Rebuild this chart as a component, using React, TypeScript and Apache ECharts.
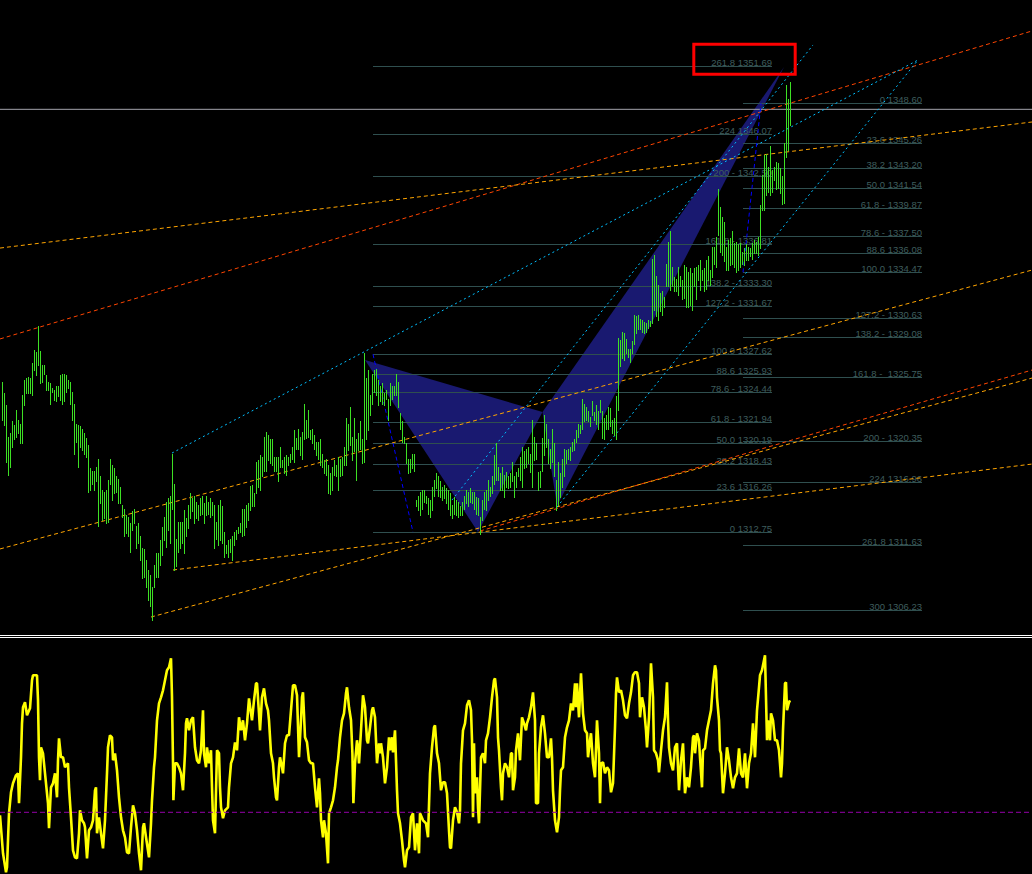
import React, { useEffect, useRef } from "react";
import * as echarts from "echarts";

// ---- price bars (high / low per bar, one bar every slot) ----
const barHigh = [
  1325.3,1324.4,1323.4,1320.7,1321.0,1322.0,1321.7,1323.0,1322.1,1321.8,
  1324.2,1325.5,1325.6,1325.7,1325.6,1326.9,1328.0,1327.8,1330.0,1327.9,
  1326.7,1326.7,1325.9,1325.3,1325.2,1324.8,1324.6,1325.0,1325.0,1325.9,
  1326.0,1326.0,1325.9,1325.5,1325.3,1324.5,1323.5,1321.8,1321.7,1321.6,
  1321.4,1321.0,1320.6,1320.0,1318.1,1317.9,1317.9,1318.2,1318.9,1317.4,
  1316.3,1316.1,1316.3,1317.1,1318.9,1318.4,1318.1,1317.4,1317.2,1316.5,
  1315.0,1314.7,1314.2,1314.0,1313.5,1314.5,1314.7,1313.3,1313.5,1312.4,
  1311.4,1311.3,1310.4,1309.6,1309.2,1308.2,1310.0,1311.0,1311.0,1312.1,
  1313.2,1314.0,1315.3,1315.6,1315.8,1319.3,1316.8,1312.2,1313.6,1313.6,
  1313.6,1314.6,1313.9,1315.0,1316.0,1315.6,1315.8,1315.3,1315.0,1315.6,
  1315.8,1315.2,1315.8,1315.3,1315.6,1315.3,1315.0,1313.6,1315.0,1315.4,
  1314.9,1312.8,1311.7,1312.1,1312.2,1312.4,1312.8,1312.9,1313.2,1313.5,
  1314.7,1314.7,1315.0,1315.2,1316.6,1316.7,1316.0,1318.6,1318.8,1319.2,
  1319.0,1320.7,1321.1,1320.9,1320.5,1320.5,1319.0,1319.0,1319.0,1319.9,
  1318.8,1319.0,1319.2,1319.0,1319.3,1319.9,1321.3,1320.6,1321.4,1320.7,
  1321.1,1323.5,1322.1,1323.0,1321.3,1321.4,1320.9,1320.3,1320.3,1320.5,
  1319.3,1318.8,1318.9,1318.4,1317.7,1318.2,1318.8,1318.4,1319.0,1318.9,
  1319.0,1319.9,1322.3,1321.8,1323.2,1320.7,1322.3,1320.5,1321.0,1322.0,
  1320.5,1327.7,1325.6,1326.3,1324.2,1326.0,1326.3,1326.4,1325.5,1325.0,
  1325.2,1324.4,1324.6,1323.9,1325.2,1325.0,1325.0,1326.0,1325.3,1322.7,
  1322.0,1320.7,1320.2,1318.9,1318.9,1319.3,1319.3,1315.4,1315.8,1316.1,
  1316.3,1316.3,1315.8,1315.6,1315.4,1316.5,1317.1,1317.7,1317.4,1317.0,
  1316.5,1316.7,1316.4,1316.3,1316.0,1315.0,1315.7,1315.4,1315.3,1314.9,
  1315.3,1315.8,1316.3,1316.1,1316.4,1316.1,1316.1,1315.7,1315.6,1314.0,
  1315.4,1316.1,1316.3,1317.1,1316.5,1317.4,1319.2,1320.2,1318.2,1317.7,
  1318.2,1317.5,1317.8,1317.4,1317.7,1318.6,1317.4,1317.8,1318.1,1319.0,
  1319.9,1319.5,1319.7,1319.9,1319.3,1322.1,1320.7,1320.2,1317.8,1317.9,
  1320.6,1322.5,1321.8,1320.5,1319.7,1321.4,1320.2,1317.1,1318.6,1317.7,
  1318.9,1319.7,1319.6,1319.7,1319.9,1320.3,1320.5,1321.3,1321.8,1321.7,
  1323.9,1323.5,1323.2,1322.9,1322.4,1323.7,1322.8,1323.4,1322.9,1323.8,
  1322.9,1322.3,1322.5,1323.2,1323.1,1322.1,1322.3,1324.1,1329.0,1328.8,
  1329.5,1329.4,1328.9,1328.1,1328.1,1328.7,1330.9,1330.8,1330.9,1330.6,
  1330.5,1330.3,1330.2,1330.5,1330.4,1335.6,1335.9,1334.2,1333.4,1332.7,
  1332.9,1332.4,1335.2,1337.0,1337.9,1334.9,1334.1,1333.9,1334.9,1334.2,
  1333.8,1335.1,1334.9,1334.5,1334.8,1334.4,1334.8,1334.9,1335.1,1335.5,
  1334.7,1334.8,1335.5,1335.8,1334.7,1336.6,1336.6,1337.4,1341.4,1339.9,
  1339.1,1338.7,1336.6,1337.2,1337.3,1337.9,1336.9,1337.0,1336.8,1336.9,
  1336.2,1336.5,1336.8,1336.6,1336.5,1336.9,1337.2,1337.0,1337.4,1340.1,
  1342.6,1344.3,1344.4,1343.3,1345.0,1343.0,1343.3,1343.7,1343.6,1343.2,
  1342.5,1345.3,1350.1,1349.0,1350.4,
];

const barLow = [
  1322.1,1321.7,1318.6,1317.5,1318.2,1319.9,1320.5,1320.7,1321.0,1320.2,
  1320.2,1323.4,1324.4,1324.4,1324.4,1324.2,1326.3,1325.9,1326.7,1325.2,
  1325.3,1326.0,1324.6,1324.6,1323.5,1324.5,1323.8,1323.7,1324.1,1323.8,
  1323.5,1323.7,1324.5,1324.8,1323.5,1322.1,1319.3,1320.3,1318.2,1319.9,
  1319.6,1319.3,1319.0,1316.1,1316.3,1316.8,1316.3,1317.0,1313.3,1315.2,
  1313.8,1313.9,1313.5,1313.6,1316.8,1315.4,1316.0,1316.1,1315.2,1315.2,
  1314.0,1312.4,1312.7,1312.4,1311.1,1312.9,1313.5,1311.4,1311.8,1310.4,
  1308.9,1309.0,1308.2,1307.1,1306.6,1305.4,1308.2,1309.0,1309.0,1310.0,
  1310.8,1312.1,1311.5,1312.9,1311.8,1314.7,1309.6,1309.9,1311.1,1311.4,
  1311.8,1311.0,1312.4,1313.1,1313.9,1314.5,1313.5,1313.9,1313.8,1314.2,
  1314.3,1313.5,1314.2,1314.3,1314.0,1314.2,1311.4,1312.2,1311.7,1312.1,
  1311.8,1310.7,1311.0,1310.7,1311.1,1310.4,1311.7,1312.2,1312.7,1312.8,
  1312.4,1312.5,1313.2,1313.8,1314.6,1314.9,1314.9,1316.0,1316.5,1316.3,
  1317.4,1317.9,1317.9,1318.8,1318.5,1318.4,1317.9,1317.9,1317.0,1318.2,
  1318.2,1317.7,1317.5,1318.4,1318.6,1318.9,1318.6,1319.7,1319.7,1319.2,
  1318.9,1320.5,1320.6,1320.7,1320.5,1320.2,1319.7,1319.2,1318.9,1318.4,
  1318.2,1317.7,1317.5,1316.0,1315.9,1316.3,1317.5,1317.4,1316.3,1317.4,
  1317.5,1318.4,1318.4,1319.6,1320.0,1318.8,1319.5,1317.1,1319.6,1319.7,
  1318.5,1318.6,1320.5,1321.3,1322.5,1323.5,1324.5,1324.2,1323.4,1323.7,
  1323.5,1323.4,1323.9,1322.1,1323.4,1323.9,1324.2,1324.2,1323.2,1321.4,
  1320.3,1320.2,1318.5,1317.7,1317.8,1318.1,1317.9,1314.9,1314.6,1314.2,
  1314.7,1315.3,1315.2,1314.3,1314.0,1314.6,1315.8,1316.4,1315.8,1315.7,
  1315.4,1315.6,1315.2,1314.7,1314.2,1313.9,1314.3,1314.2,1314.0,1314.2,
  1314.2,1314.7,1315.2,1314.9,1315.3,1315.2,1314.7,1314.3,1314.2,1312.6,
  1313.8,1314.7,1314.6,1315.4,1315.8,1316.0,1316.8,1317.1,1317.1,1316.3,
  1316.3,1315.7,1316.5,1316.4,1316.5,1317.0,1315.7,1316.5,1317.4,1317.1,
  1316.5,1318.1,1318.2,1318.5,1317.8,1316.5,1318.8,1318.9,1316.3,1316.5,
  1317.9,1319.2,1319.9,1318.5,1318.1,1318.6,1317.4,1314.6,1315.0,1315.7,
  1316.5,1317.4,1318.5,1318.9,1318.8,1319.5,1319.6,1320.3,1320.7,1321.0,
  1321.4,1322.0,1322.1,1322.0,1321.6,1322.5,1322.1,1321.8,1321.4,1322.8,
  1320.6,1320.5,1321.4,1321.4,1321.6,1321.0,1320.9,1320.5,1323.0,1326.6,
  1327.3,1327.1,1327.7,1327.4,1327.0,1327.7,1328.5,1329.4,1329.7,1329.7,
  1329.5,1329.4,1329.5,1329.8,1330.0,1330.2,1331.3,1330.8,1330.5,1331.2,
  1330.9,1331.6,1333.3,1333.3,1333.0,1333.3,1332.9,1332.9,1332.6,1333.3,
  1332.2,1332.3,1331.6,1331.6,1331.7,1331.3,1333.3,1332.2,1333.8,1333.0,
  1333.8,1332.9,1333.1,1333.8,1333.4,1334.1,1335.2,1334.9,1337.6,1336.2,
  1335.9,1335.4,1334.7,1334.7,1335.1,1335.2,1334.9,1334.5,1334.7,1334.9,
  1335.2,1335.1,1335.5,1335.5,1335.8,1335.6,1336.1,1336.1,1335.9,1336.5,
  1339.7,1339.7,1340.9,1341.2,1340.9,1341.2,1342.2,1341.4,1341.5,1341.1,
  1340.2,1340.3,1344.1,1344.7,1346.8,
];

// ---- oscillator (bar position, value) ----
const oscPoints: [number, number][] = [
  [-1,-3],[0.5,-41],[2,-60],[2.5,-55],[3.5,-1],[4.5,20],[5.5,29],[7,37],[8,39],[8.5,9],[9.5,55],[10,89],[10.5,105],[11.5,110],[12.5,97],[14,104],[15,132],[15.5,137],[17.5,137],[18,112],[18.5,55],[19,32],[19.5,65],[20.5,59],[21.5,39],[22.5,19],[23,9],[23.5,-16],[24.5,25],[25.5,29],[26.5,39],[27.5,15],[28,52],[28.5,74],[29.5,55],[30.5,55],[31.5,45],[33,49],[33.5,25],[34.5,-5],[35.5,-38],[36.5,-45],[37.5,-46],[38.5,-21],[39,2],[40,-8],[41,-11],[41.5,-15],[42.5,-46],[43.5,-18],[44.5,-15],[45.5,-8],[46.5,22],[47,25],[47.5,-21],[48.5,-5],[49.5,-21],[50.5,-36],[51.5,-8],[52.5,39],[53,65],[54,77],[55,75],[55.5,52],[56.5,59],[57.5,42],[58.5,15],[59.5,-5],[60.5,-18],[61.5,-25],[62.5,-40],[63.5,-41],[64.5,-15],[65.5,7],[66.5,-1],[67.5,-18],[68.5,-41],[69.5,-58],[70.5,-15],[71,-11],[72,-25],[73.5,-45],[74.5,-11],[75,12],[76,45],[76.5,55],[77.5,92],[78.5,109],[79.5,115],[80.5,122],[81.5,132],[82.5,142],[83.5,145],[84.5,154],[85,115],[85.5,49],[85.7,12],[86.5,49],[87.5,49],[88.5,45],[89.5,39],[90.5,22],[91.5,59],[92,89],[92.5,94],[93.5,82],[94.5,92],[95.5,95],[96.5,65],[97.5,52],[98.5,49],[99.5,62],[100.5,102],[101,59],[102,45],[102.5,65],[103.5,49],[104.5,62],[105,25],[105.5,-8],[106.5,-21],[107.5,62],[108.5,59],[109,25],[109.5,5],[110.5,-6],[111.5,2],[113,5],[113.5,25],[114.5,49],[115.5,55],[116.5,70],[117.5,62],[118.5,95],[119.5,82],[120.5,92],[121.5,72],[122.5,89],[123.5,114],[124.5,99],[125,92],[126,112],[127,129],[127.5,129],[128.5,99],[129,82],[130,115],[131,124],[132,109],[133,102],[133.5,92],[134.5,59],[135.5,49],[136,35],[137,15],[137.5,12],[138.5,45],[139,55],[140,45],[140.5,39],[141.5,69],[142.5,77],[143.5,77],[144.5,102],[145.5,127],[146.5,127],[147.5,117],[148.5,55],[149.5,92],[150,115],[150.5,120],[151.5,75],[152.5,70],[153.5,52],[154.5,49],[155.5,49],[156.5,25],[157.5,5],[158.5,34],[159,19],[159.5,-8],[160.5,-25],[161,-8],[162,-21],[163,-51],[163.5,-1],[164.5,5],[165.5,12],[166.5,25],[167.5,45],[168,52],[169,75],[170,92],[171,99],[172,119],[172.5,125],[173.5,105],[174.5,92],[175.2,59],[175.7,9],[176.5,49],[177.5,72],[178,65],[178.5,49],[179.5,82],[180.5,117],[181.5,105],[182.5,72],[183,69],[184,85],[185,102],[185.5,105],[186.5,95],[187.5,49],[188.5,69],[189,59],[189.5,69],[190.5,55],[191.5,29],[192.5,45],[193.5,75],[194,62],[195,75],[195.5,60],[196.5,82],[197.5,22],[198,-1],[199,-11],[200,-28],[201,-48],[201.5,-55],[202.5,-38],[203.5,-35],[204.5,-5],[205.5,-1],[206.5,-38],[207.5,-11],[208.5,-41],[209,-1],[210.5,-8],[212,-11],[213,-25],[214,39],[215,65],[216,85],[216.5,87],[217.5,59],[218.5,49],[219.5,22],[220.5,30],[221.5,30],[222.5,19],[223.5,-18],[224,-35],[224.5,-36],[225.5,-8],[226.5,5],[227.5,0],[228.5,-11],[229,2],[229.5,49],[230.5,82],[231.5,89],[232.5,107],[233.5,112],[234.5,102],[235,72],[235.5,-5],[236,69],[236.5,19],[237.5,35],[238,5],[238.5,-11],[239.5,55],[240.5,59],[241.5,49],[242,72],[243,79],[244,95],[245,115],[246,132],[246.5,134],[247.5,115],[248,75],[248.5,62],[249.5,25],[250,12],[250.5,39],[251.5,49],[252.5,45],[253.5,35],[254.5,59],[255,59],[255.5,22],[256.5,35],[257,62],[258,79],[259,52],[260,95],[261,89],[262,82],[262.5,89],[263.5,95],[264.5,105],[265.5,120],[266.5,92],[267,9],[268,9],[268.5,59],[269.5,85],[270.5,97],[271.5,79],[272.5,55],[273.5,55],[274.5,74],[275,55],[275.5,22],[276.5,-8],[277.5,-20],[278.5,-5],[279,22],[279.5,42],[280.5,45],[281.5,75],[282.5,85],[283.5,92],[284.5,109],[285.5,102],[286.5,129],[287,105],[287.5,129],[288.5,95],[289.5,139],[290.5,99],[291.5,82],[292.5,79],[293,55],[294,72],[294.5,79],[295.5,49],[296,42],[296.5,35],[297.5,92],[298.5,59],[299,9],[299.5,49],[300.5,50],[301.5,39],[302.5,45],[303.5,42],[304.5,20],[305.5,29],[306.5,85],[307,119],[307.5,135],[308.5,120],[309.5,122],[310.5,112],[311.5,97],[312.5,94],[313.5,109],[314.5,120],[315.5,137],[316.5,140],[317.5,140],[318.5,129],[319,95],[320,115],[321,105],[322,82],[322.5,65],[323.5,95],[324.5,149],[325.5,115],[326,62],[327,59],[328,52],[328.5,40],[329.5,62],[330.5,82],[331.5,95],[332.5,130],[333,92],[333.5,65],[334.5,49],[335.5,42],[336.5,65],[337.5,69],[338.5,22],[339.5,52],[340.5,69],[341.5,19],[342.5,35],[343.5,25],[344.5,45],[345.5,75],[346,77],[346.5,59],[347.5,79],[348.5,72],[349,55],[350,25],[350.5,62],[351.5,64],[352.5,82],[353.5,92],[354.5,102],[355.5,129],[356.5,147],[357,142],[357.5,115],[358.5,92],[359,62],[359.5,59],[360.5,19],[361.5,39],[362.5,65],[363.5,52],[364.5,35],[365.5,24],[366.5,35],[367.5,39],[368.5,64],[369.5,39],[370.5,35],[371.5,59],[372.5,24],[373.5,49],[374.5,59],[375.5,89],[376.5,55],[377.5,102],[378.5,125],[379,137],[380,142],[381,152],[381.5,157],[382.5,72],[383,92],[384,72],[384.5,99],[385.5,92],[386.5,72],[387.5,72],[388.5,62],[389.5,35],[390,49],[390.5,82],[391.5,129],[392,130],[392.5,102],[393.5,110],[394,112],
];
const oscLevel = 0;

// ---- Fibonacci sets ----
const fibLeftLabels = [
  "261.8 1351.69","224 1346.07","200 - 1342.50","161.8 - 1336.81","138.2 - 1333.30",
  "127.2 - 1331.67","100.0 1327.62","88.6 1325.93","78.6 - 1324.44","61.8 - 1321.94",
  "50.0 1320.19","38.2 1318.43","23.6 1316.26","0 1312.75",
];
const fibLeftPrices = [1351.69,1346.07,1342.50,1336.81,1333.30,1331.67,1327.62,1325.93,1324.44,1321.94,1320.19,1318.43,1316.26,1312.75];
const fibLeftSpan = [185.5, 385];

const fibRightLabels = [
  "0 1348.60","23.6 1345.26","38.2 1343.20","50.0 1341.54","61.8 - 1339.87",
  "78.6 - 1337.50","88.6 1336.08","100.0 1334.47","127.2 - 1330.63","138.2 - 1329.08",
  "161.8 -  1325.75","200 - 1320.35","224 1316.96","261.8 1311.63","300 1306.23",
];
const fibRightPrices = [1348.60,1345.26,1343.20,1341.54,1339.87,1337.50,1336.08,1334.47,1330.63,1329.08,1325.75,1320.35,1316.96,1311.63,1306.23];
const fibRightSpan = [370.5, 460];

// ---- harmonic pattern X, A, B, C, D ----
const patternBar = [181.5, 238, 270.25, 277.5, 391];
const patternPrice = [1327.14, 1312.76, 1322.79, 1314.93, 1351.64];
const patternTriangles = [[0, 1, 2], [2, 3, 4]];

// ---- trend lines [bar1, price1, bar2, price2] ----
const redLines = [[-1, 1328.9, 515, 1354.65], [239, 1312.84, 515, 1326.3]];
const orangeLines = [
  [-1, 1336.5, 515, 1347.04],
  [-1, 1311.34, 515, 1334.66],
  [85.5, 1309.58, 515, 1318.44],
  [74.5, 1305.65, 515, 1325.63],
];
const skyLines = [
  [85, 1319.36, 458, 1352.22],
  [225, 1315.43, 405.5, 1353.48],
  [277.5, 1314.85, 458, 1352.22],
];
const blueLines = [[185.5, 1327.62, 205.5, 1312.75], [370.5, 1334.47, 379.5, 1348.6]];
const bidPrice = 1348.1;

const LABEL_FONT = "'Liberation Sans', Arial, sans-serif";

function makeFibRender(labels: string[]) {
  return (params: any, api: any) => {
    const x1 = api.value(0), x2 = api.value(1), p = api.value(2), k = api.value(3);
    const a = api.coord([x1, p]);
    const b = api.coord([x2, p]);
    const y = Math.round(a[1]) + 0.5;
    const xr = Math.round(b[0]);
    return {
      type: "group",
      children: [
        { type: "line", shape: { x1: Math.round(a[0]), y1: y, x2: xr, y2: y }, style: { stroke: "#2f4f4f", lineWidth: 1 } },
        {
          type: "text",
          style: {
            text: labels[k], x: xr, y: y + 0.5,
            fill: "#3f5d5d", fontSize: 9.5, fontFamily: LABEL_FONT,
            align: "right", verticalAlign: "bottom", textAlign: "right", textVerticalAlign: "bottom",
          },
        },
      ],
    };
  };
}

function trendSeries(lines: number[][], color: string, dash: number[], z: number) {
  return lines.map((l) => ({
    type: "line",
    xAxisIndex: 0,
    yAxisIndex: 0,
    data: [[l[0], l[1]], [l[2], l[3]]],
    symbol: "none",
    silent: true,
    z,
    lineStyle: { color, width: 1, type: dash },
  }));
}

export default function App() {
  const ref = useRef<HTMLDivElement>(null);
  useEffect(() => {
    if (!ref.current) return;
    const chart = echarts.init(ref.current, null, { renderer: "svg" });
    const n = Math.min(barHigh.length, barLow.length);
    const barData = [];
    for (let i = 0; i < n; i++) barData.push([i, barLow[i], barHigh[i]]);

    const option: any = {
      animation: false,
      backgroundColor: "#000000",
      grid: [
        { left: 0, top: 0, width: 1032, height: 634 },
        { left: 0, top: 638, width: 1032, height: 236 },
      ],
      xAxis: [
        { gridIndex: 0, type: "value", min: -1, max: 515, show: false },
        { gridIndex: 1, type: "value", min: -1, max: 515, show: false },
      ],
      yAxis: [
        { gridIndex: 0, type: "value", min: 1304.23, max: 1357.24, show: false, scale: true },
        { gridIndex: 1, type: "value", min: -61.7, max: 174.3, show: false },
      ],
      series: [
        {
          type: "custom",
          xAxisIndex: 0,
          yAxisIndex: 0,
          silent: true,
          z: 1,
          data: patternTriangles,
          renderItem: (params: any, api: any) => {
            const ids = [api.value(0), api.value(1), api.value(2)];
            const pts = ids.map((j: number) => api.coord([patternBar[j], patternPrice[j]]));
            return { type: "polygon", shape: { points: pts }, style: { fill: "#191970" } };
          },
        },
        {
          type: "custom",
          xAxisIndex: 0,
          yAxisIndex: 0,
          silent: true,
          z: 2,
          data: fibLeftPrices.map((p, k) => [fibLeftSpan[0], fibLeftSpan[1], p, k]),
          renderItem: makeFibRender(fibLeftLabels),
        },
        {
          type: "custom",
          xAxisIndex: 0,
          yAxisIndex: 0,
          silent: true,
          z: 2,
          data: fibRightPrices.map((p, k) => [fibRightSpan[0], fibRightSpan[1], p, k]),
          renderItem: makeFibRender(fibRightLabels),
        },
        {
          type: "line",
          xAxisIndex: 0,
          yAxisIndex: 0,
          data: [[-1, bidPrice], [515, bidPrice]],
          symbol: "none",
          silent: true,
          z: 3,
          lineStyle: { color: "#a4a4ac", width: 1 },
        },
        ...trendSeries(redLines, "#ff4500", [4, 3], 3),
        ...trendSeries(orangeLines, "#ffa500", [4, 3], 3),
        ...trendSeries(skyLines, "#00bfff", [2, 3], 3),
        ...trendSeries(blueLines, "#0000ff", [4, 3], 3),
        {
          type: "custom",
          xAxisIndex: 0,
          yAxisIndex: 0,
          silent: true,
          z: 5,
          data: barData,
          renderItem: (params: any, api: any) => {
            const i = api.value(0), lo = api.value(1), hi = api.value(2);
            const a = api.coord([i, hi]);
            const b = api.coord([i, lo]);
            const x = Math.round(a[0]) + 0.5;
            return {
              type: "line",
              shape: { x1: x, y1: Math.round(a[1]), x2: x, y2: Math.round(b[1]) + 1 },
              style: { stroke: "#3de024", lineWidth: 1 },
            };
          },
        },
        {
          type: "line",
          xAxisIndex: 1,
          yAxisIndex: 1,
          data: oscPoints,
          symbol: "none",
          silent: true,
          z: 3,
          lineStyle: { color: "#ffff00", width: 2.6 },
        },
        {
          type: "line",
          xAxisIndex: 1,
          yAxisIndex: 1,
          data: [[-1, oscLevel], [515, oscLevel]],
          symbol: "none",
          silent: true,
          z: 4,
          lineStyle: { color: "#9400a8", width: 1, type: [5, 3] },
        },
      ],
      graphic: [
        { type: "line", shape: { x1: 0, y1: 635.5, x2: 1032, y2: 635.5 }, style: { stroke: "#ffffff", lineWidth: 1 }, z: 10, silent: true },
        { type: "line", shape: { x1: 0, y1: 637.5, x2: 1032, y2: 637.5 }, style: { stroke: "#ffffff", lineWidth: 1 }, z: 10, silent: true },
        {
          type: "rect",
          shape: { x: 693.8, y: 44.2, width: 101.4, height: 30.1 },
          style: { fill: "transparent", stroke: "#ff0000", lineWidth: 3 },
          z: 10,
          silent: true,
        },
      ],
    };
    chart.setOption(option);
    return () => chart.dispose();
  }, []);
  return (
    <div
      ref={ref}
      style={{ position: "fixed", left: 0, top: 0, width: 1032, height: 874, background: "#000" }}
    />
  );
}
